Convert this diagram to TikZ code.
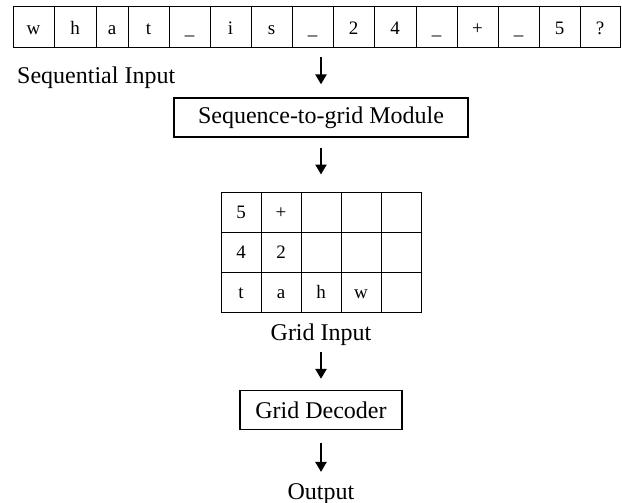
\documentclass[tikz,border=0pt]{standalone}
\usepackage{fontspec}
\setmainfont{Liberation Serif}
\usetikzlibrary{arrows.meta, positioning}
\tikzset{seqcell/.style={draw,line width=1pt,minimum height=41pt,inner sep=0pt,
            text height=15pt,text depth=0pt,font=\fontsize{19}{21}\selectfont},
         gridcell/.style={draw,line width=1pt,minimum width=40pt,minimum height=40pt,
            inner sep=0pt,text height=12pt,text depth=0pt,font=\fontsize{19}{21}\selectfont},
         module/.style={draw,line width=1.3pt,minimum height=39pt,inner sep=0pt,
            font=\fontsize{24}{28}\selectfont},
         caption/.style={inner sep=0pt,font=\fontsize{24}{28}\selectfont},
         flow/.style={-{Triangle[width=11pt,length=10pt]},line width=2.4pt}}
\begin{document}
\begin{tikzpicture}[x=1pt,y=-1pt]
\useasboundingbox (0,0) rectangle (622,503);
% sequential input
\foreach \ch/\xa/\xb [count=\i] in {w/13/54,h/54/96,a/96/128,t/128/169,\_/169/210,
    i/210/251,s/251/292,\_/292/333,2/333/374,4/374/416,\_/416/457,+/457/498,
    \_/498/539,5/539/580,?/580/620}
  \node[seqcell,minimum width={(\xb-\xa)*1pt}] (c\i) at ({(\xa+\xb)/2},27.5) {\ch};
\node[caption,anchor=base west] (seqlabel) at (17,84) {Sequential Input};
\node[module,minimum width=294pt] (s2g) at (321,117.5) {Sequence-to-grid Module};
% grid input
\foreach \line [count=\r] in {{5,+,{},{},{}},{4,2,{},{},{}},{t,a,h,w,{}}}
  \foreach \t [count=\c] in \line
    \node[gridcell] (g-\r-\c) at ({201+40*\c},{172+40*\r}) {\t};
\node[caption,anchor=base] (gridlabel) at (321,340) {Grid Input};
\node[module,minimum width=162pt] (dec) at (321,410) {Grid Decoder};
\node[caption,anchor=base] (out) at (321,499) {Output};
\draw[flow,shorten <=9pt,shorten >=13pt] (s2g.north |- c1.south) -- (s2g.north);
\draw[flow,shorten <=10pt,shorten >=17pt] (s2g.south) -- (g-1-3.north);
\draw[flow,shorten <=7pt,shorten >=11pt] (gridlabel.south) -- (dec.north);
\draw[flow,shorten <=13pt,shorten >=11pt] (dec.south) -- (out.north);
\end{tikzpicture}
\end{document}
